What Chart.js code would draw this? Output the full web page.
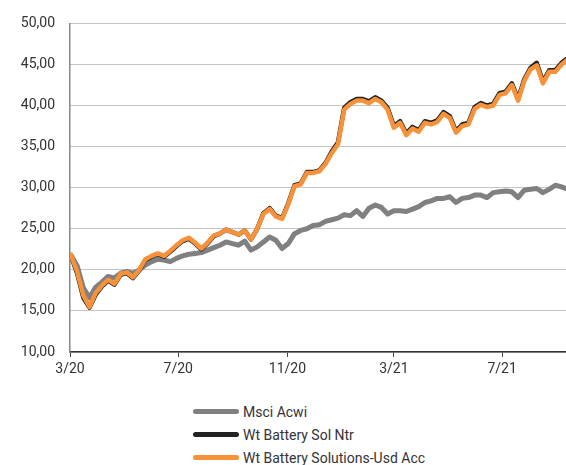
<!DOCTYPE html>
<html>
<head>
<meta charset="utf-8">
<script src="https://cdn.jsdelivr.net/npm/chart.js@4.4.1/dist/chart.umd.min.js"></script>
<style>
    body { margin: 0; background: #fff; font-family: Roboto, "DejaVu Sans", sans-serif; }
    #wrap { position: relative; width: 566px; height: 465px; }
    #chart-box { position: absolute; left: 0; top: 0; width: 566px; height: 392px; }
    #legend { position: absolute; left: 193px; top: 400px; }
    .legend-row { display: flex; align-items: center; height: 23px; font-size: 14px; color: #333; }
    .legend-line { width: 46px; height: 5px; border-radius: 3px; margin-right: 4px; }
</style>
</head>
<body>
<div id="wrap">
    <div id="chart-box"><canvas id="perf-chart"></canvas></div>
    <div id="legend"></div>
</div>
<script>
// weekly observations, first one on 2 March 2020
const startDate = '2020-03-02';
const stepDays = 7;

const seriesNames = ['Msci Acwi', 'Wt Battery Sol Ntr', 'Wt Battery Solutions-Usd Acc'];
const seriesColors = ['#808080', '#222222', '#f7923a'];

const msciAcwi = [
    21.8, 20.5, 17.8, 16.6, 17.9, 18.5, 19.2, 19.0, 19.6, 19.8,
    19.6, 20.0, 20.6, 21.0, 21.3, 21.2, 21.0, 21.4, 21.7, 21.9,
    22.0, 22.1, 22.4, 22.7, 23.0, 23.4, 23.2, 23.0, 23.5, 22.4,
    22.8, 23.4, 24.0, 23.6, 22.6, 23.2, 24.4, 24.8, 25.0, 25.4,
    25.5, 25.9, 26.1, 26.3, 26.7, 26.6, 27.2, 26.5, 27.5, 27.9,
    27.6, 26.8, 27.2, 27.2, 27.1, 27.4, 27.7, 28.2, 28.4, 28.7,
    28.7, 28.9, 28.2, 28.7, 28.8, 29.1, 29.1, 28.8, 29.4, 29.5,
    29.6, 29.5, 28.8, 29.7, 29.8, 29.9, 29.4, 29.8, 30.3, 30.1,
    29.8
];

const batterySolNtr = [
    21.7, 19.6, 16.6, 15.4, 17.0, 18.0, 18.7, 18.2, 19.4, 19.6,
    19.0, 19.9, 21.2, 21.6, 21.9, 21.6, 22.2, 22.9, 23.5, 23.8,
    23.2, 22.5, 23.2, 24.1, 24.4, 24.9, 24.6, 24.3, 24.8, 23.7,
    25.0, 26.9, 27.5, 26.6, 26.3, 28.1, 30.3, 30.5, 31.9, 31.9,
    32.1, 33.0, 34.4, 35.5, 39.7, 40.4, 40.8, 40.8, 40.5, 41.0,
    40.6, 39.7, 37.5, 38.1, 36.6, 37.4, 37.0, 38.1, 37.9, 38.2,
    39.2, 38.7, 36.9, 37.7, 37.9, 39.8, 40.3, 40.0, 40.2, 41.5,
    41.7, 42.7, 40.8, 43.2, 44.6, 45.2, 42.9, 44.3, 44.3, 45.2,
    45.8
];

const batteryUsdAcc = [
    21.8, 19.8, 16.9, 15.5, 17.2, 18.1, 18.8, 18.3, 19.5, 19.7,
    19.1, 20.0, 21.3, 21.7, 22.0, 21.7, 22.3, 23.0, 23.6, 23.9,
    23.3, 22.6, 23.3, 24.2, 24.4, 24.9, 24.6, 24.3, 24.8, 23.7,
    25.0, 26.8, 27.4, 26.5, 26.2, 28.0, 30.2, 30.4, 31.8, 31.8,
    32.0, 32.9, 34.2, 35.3, 39.5, 40.2, 40.6, 40.6, 40.3, 40.8,
    40.4, 39.5, 37.3, 37.9, 36.4, 37.2, 36.8, 37.9, 37.7, 38.0,
    39.0, 38.5, 36.7, 37.5, 37.7, 39.6, 40.1, 39.8, 40.0, 41.3,
    41.5, 42.5, 40.6, 43.0, 44.4, 44.9, 42.7, 44.1, 44.1, 45.0,
    45.6
];

const tickDates = ['2020-03-01', '2020-07-01', '2020-11-01', '2021-03-01', '2021-07-01'];
const tickLabels = ['3/20', '7/20', '11/20', '3/21', '7/21'];
const axisEndDate = '2021-09-11';
const yTicks = [10, 15, 20, 25, 30, 35, 40, 45, 50];

// days since the axis start
const axisStart = new Date(tickDates[0] + 'T00:00:00Z');
function dayOffset(dateStr) {
    return Math.round((new Date(dateStr + 'T00:00:00Z') - axisStart) / 86400000);
}
const firstDay = dayOffset(startDate);
const tickDays = tickDates.map(dayOffset);

function toPoints(values) {
    return values.map((v, i) => ({ x: firstDay + i * stepDays, y: v }));
}

const allSeries = [msciAcwi, batterySolNtr, batteryUsdAcc];

const datasets = allSeries.map((values, i) => ({
    label: seriesNames[i],
    data: toPoints(values),
    borderColor: seriesColors[i],
    backgroundColor: seriesColors[i],
    borderWidth: i === 0 ? 5 : 4.5,
    pointRadius: 0,
    tension: 0,
    borderCapStyle: 'round',
    borderJoinStyle: 'round',
    order: 3 - i // orange on top, gray at the back
}));

Chart.defaults.font.family = 'Roboto, "DejaVu Sans", sans-serif';
Chart.defaults.font.size = 14;
Chart.defaults.color = '#333';

const perfChart = new Chart(document.getElementById('perf-chart'), {
    type: 'line',
    data: { datasets: datasets },
    options: {
        responsive: true,
        maintainAspectRatio: false,
        animation: false,
        layout: { padding: { top: 14, right: 0, left: 0, bottom: 0 } },
        plugins: {
            legend: { display: false },
            tooltip: { enabled: false }
        },
        scales: {
            x: {
                type: 'linear',
                min: 0,
                max: dayOffset(axisEndDate),
                afterBuildTicks: (scale) => {
                    scale.ticks = tickDays.map(v => ({ value: v }));
                },
                afterFit: (scale) => { scale.height = 40; },
                ticks: {
                    autoSkip: false,
                    maxRotation: 0,
                    padding: 4,
                    color: '#333',
                    callback: (value) => {
                        const idx = tickDays.indexOf(value);
                        return idx >= 0 ? tickLabels[idx] : '';
                    }
                },
                grid: {
                    drawOnChartArea: false,
                    drawTicks: true,
                    tickLength: 5,
                    tickColor: '#444',
                    tickWidth: 1
                },
                border: { display: true, color: '#333', width: 1.5 }
            },
            y: {
                min: 10,
                max: 50,
                afterBuildTicks: (scale) => {
                    scale.ticks = yTicks.map(v => ({ value: v }));
                },
                afterFit: (scale) => { scale.width = 70; },
                ticks: {
                    padding: 15,
                    color: '#333',
                    callback: (value) => value.toFixed(2).replace('.', ',')
                },
                grid: {
                    drawTicks: false,
                    color: '#8a8a8a',
                    lineWidth: 1
                },
                border: { display: true, color: '#888', width: 1.5, dash: [1, 1] }
            }
        }
    }
});

// legend below the chart, one series per row
const legendBox = document.getElementById('legend');
seriesNames.forEach((name, i) => {
    const row = document.createElement('div');
    row.className = 'legend-row';
    row.innerHTML = `<span class="legend-line" style="background:${seriesColors[i]}"></span><span>${name}</span>`;
    legendBox.appendChild(row);
});
</script>
</body>
</html>
